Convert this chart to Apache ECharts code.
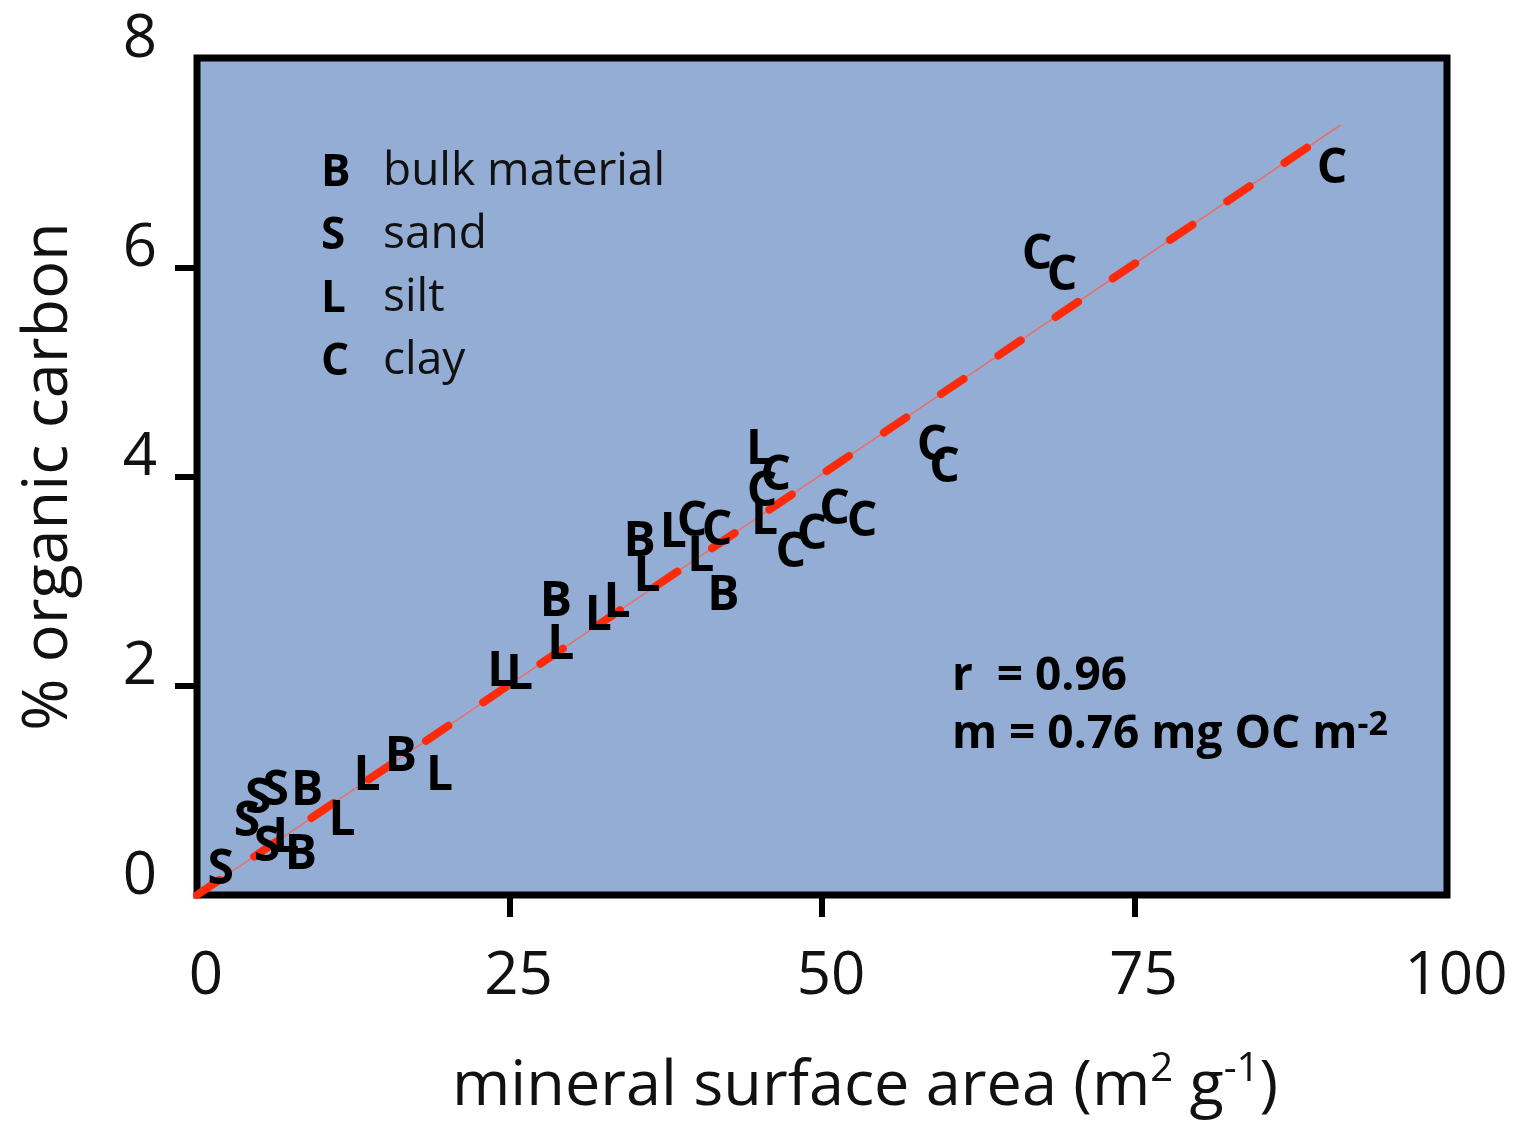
<!DOCTYPE html>
<html>
<head>
<meta charset="utf-8">
<title>Organic carbon vs mineral surface area</title>
<script src="https://cdn.jsdelivr.net/npm/echarts@6/dist/echarts.min.js"></script>
<style>
  html, body { margin: 0; padding: 0; background: #ffffff; }
  #chart { width: 1514px; height: 1121px; }
</style>
</head>
<body>
<div id="chart"></div>
<script>
// Grain-size fractions: mineral surface area (m2/g) and % organic carbon
const bulkX = [8.3, 8.8, 16.3, 28.7, 35.4, 42.1];
const bulkY = [0.38, 0.99, 1.32, 2.80, 3.37, 2.85];

const sandX = [1.9, 4.0, 4.9, 5.6, 6.3];
const sandY = [0.24, 0.69, 0.91, 0.46, 0.99];

const siltX = [7.1, 11.6, 13.6, 19.4, 24.3, 25.8, 29.1, 32.1, 33.6, 36.0, 38.1, 40.3, 45.0, 45.4];
const siltY = [0.54, 0.70, 1.13, 1.13, 2.13, 2.10, 2.39, 2.66, 2.79, 3.04, 3.46, 3.23, 4.25, 3.58];

const clayX = [39.6, 41.6, 45.2, 46.3, 47.5, 49.2, 51.0, 53.2, 58.8, 59.8, 67.2, 69.2, 90.8];
const clayY = [3.56, 3.48, 3.85, 4.00, 3.27, 3.44, 3.68, 3.56, 4.29, 4.08, 6.11, 5.91, 6.94];

// Regression line end points
const fitX = [0, 91.5];
const fitY = [0, 7.36];

// Key letters and their fraction names
const keyLetters = ['B', 'S', 'L', 'C'];
const keyNames = ['bulk material', 'sand', 'silt', 'clay'];

// Axis ticks
const xTicks = [25, 50, 75];
const yTicks = [2, 4, 6];

const statR = 'r  = 0.96';
const statM = 'm = 0.76 mg OC m';

const FONT = '"Open Sans", "Noto Sans", sans-serif';

function pairs(xs, ys) {
  return xs.map((x, i) => [x, ys[i]]);
}

function letterSeries(name, letter, xs, ys) {
  return {
    name: name,
    type: 'scatter',
    data: pairs(xs, ys),
    symbol: 'circle',
    symbolSize: 1,
    itemStyle: { color: 'rgba(0,0,0,0)' },
    silent: true,
    z: 5,
    label: {
      show: true,
      position: 'inside',
      formatter: letter,
      fontFamily: FONT,
      fontWeight: 'bold',
      fontSize: 48,
      color: '#000000',
      opacity: 1,
      textBorderWidth: 0,
      textBorderColor: 'transparent'
    },
    emphasis: { disabled: true }
  };
}

const chart = echarts.init(document.getElementById('chart'), null, { renderer: 'canvas' });

const keyGraphics = [];
keyLetters.forEach((k, i) => {
  const y = 170 + i * 63;
  keyGraphics.push({
    type: 'text', left: 321, top: y - 19, silent: true,
    style: { text: k, fontFamily: FONT, fontWeight: 'bold', fontSize: 44, fill: '#000' }
  });
  keyGraphics.push({
    type: 'text', left: 383, top: y - 21, silent: true,
    style: { text: keyNames[i], fontFamily: FONT, fontSize: 46, fill: '#111' }
  });
});

const option = {
  animation: false,
  backgroundColor: '#ffffff',
  grid: {
    left: 197, right: 67, top: 58, bottom: 226,
    outerBoundsMode: 'none',
    containLabel: false,
    show: true,
    backgroundColor: '#93add4',
    borderColor: '#000000',
    borderWidth: 7
  },
  xAxis: {
    type: 'value',
    min: 0, max: 100, interval: 25,
    name: 'mineral surface area (m{sup|2} g{sup|-1})',
    nameLocation: 'middle',
    nameGap: 155,
    nameTextStyle: {
      fontFamily: FONT, fontSize: 63, color: '#111',
      padding: [0, 0, 0, 86],
      rich: { sup: { fontFamily: FONT, fontSize: 40, color: '#111', verticalAlign: 'top', padding: [0, 0, 34, 0] } }
    },
    axisLine: { show: false },
    axisTick: {
      show: true, inside: false, length: 22,
      customValues: xTicks,
      lineStyle: { color: '#000', width: 6 }
    },
    splitLine: { show: false },
    axisLabel: {
      margin: 52,
      fontFamily: FONT, fontSize: 60, color: '#111',
      padding: [0, 0, 0, 18]
    }
  },
  yAxis: {
    type: 'value',
    min: 0, max: 8, interval: 2,
    name: '% organic carbon',
    nameLocation: 'middle',
    nameGap: 116,
    nameTextStyle: { fontFamily: FONT, fontSize: 63, color: '#111' },
    axisLine: { show: false },
    axisTick: {
      show: true, inside: false, length: 22,
      customValues: yTicks,
      lineStyle: { color: '#000', width: 6 }
    },
    splitLine: { show: false },
    axisLabel: {
      margin: 40,
      fontFamily: FONT, fontSize: 60, color: '#111',
      verticalAlign: 'bottom',
      lineHeight: 37
    }
  },
  series: [
    {
      name: 'fit-thin',
      type: 'line',
      data: pairs(fitX, fitY),
      symbol: 'none',
      silent: true,
      z: 2,
      lineStyle: { color: '#f06a5e', width: 1.5 }
    },
    {
      name: 'fit-dash',
      type: 'line',
      data: pairs(fitX, fitY),
      symbol: 'none',
      silent: true,
      z: 3,
      lineStyle: { color: '#ff2a0a', width: 8, type: [27, 42], cap: 'round' }
    },
    letterSeries('bulk material', 'B', bulkX, bulkY),
    letterSeries('sand', 'S', sandX, sandY),
    letterSeries('silt', 'L', siltX, siltY),
    letterSeries('clay', 'C', clayX, clayY)
  ],
  graphic: keyGraphics.concat([
    {
      type: 'text', left: 952, top: 654, silent: true,
      style: { text: statR, fontFamily: FONT, fontWeight: 'bold', fontSize: 46, fill: '#000' }
    },
    {
      type: 'text', left: 952, top: 708, silent: true,
      style: {
        text: statM + '{sup|-2}', fontFamily: FONT, fontWeight: 'bold', fontSize: 46, fill: '#000',
        rich: { sup: { fontFamily: FONT, fontWeight: 'bold', fontSize: 34, fill: '#000', verticalAlign: 'top', padding: [0, 0, 20, 0] } }
      }
    }
  ])
};

chart.setOption(option);
</script>
</body>
</html>
